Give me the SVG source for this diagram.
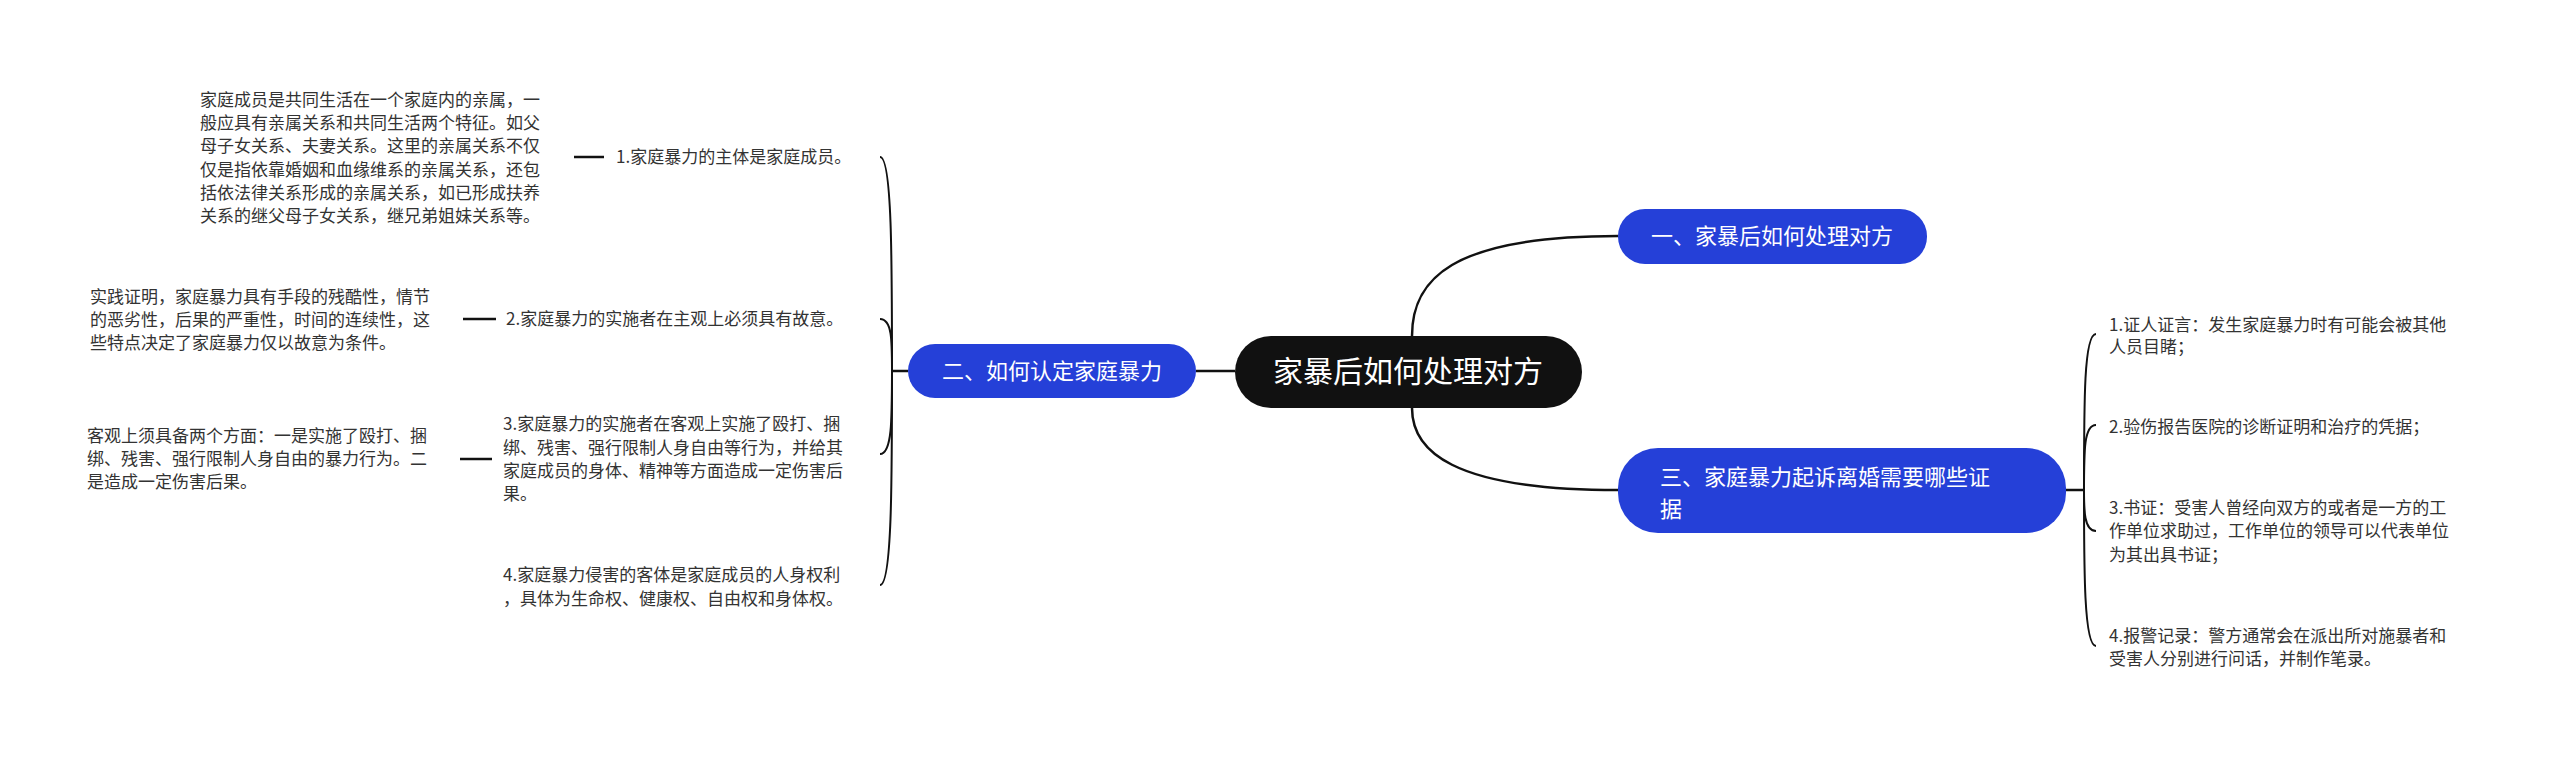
<svg xmlns="http://www.w3.org/2000/svg" width="2560" height="757" viewBox="0 0 2560 757">
<style>
.t{font-family:"Noto Sans CJK SC","Noto Sans",sans-serif;font-size:17px;fill:#333}
.b{font-family:"Noto Sans CJK SC","Noto Sans",sans-serif;font-size:22px;fill:#fff}
.c{fill:none;stroke:#111;stroke-width:2.5}
.s{fill:none;stroke:#111;stroke-width:2}
.blue{fill:#2540d8}
</style>
<rect width="2560" height="757" fill="#fff"/>
<g id="connectors">
<path class="c" d="M1412,336 C1412,280 1450,236 1618,236"/>
<path class="c" d="M1412,408 C1412,450 1450,490 1618,490"/>
<path class="c" d="M1235,371 L1196,371"/>
<path class="c" d="M908,371 L892,371"/>
<path class="s" d="M892,371 C892,260 892,157 880,157"/>
<path class="s" d="M892,371 C892,340 892,319 880,319"/>
<path class="s" d="M892,371 C892,420 892,454 880,454"/>
<path class="s" d="M892,371 C892,480 892,585 880,585"/>
<path class="c" d="M574,157 L604,157"/>
<path class="c" d="M463,319 L496,319"/>
<path class="c" d="M460,459 L492,459"/>
<path class="c" d="M2066,490 L2084,490"/>
<path class="s" d="M2084,490 C2084,400 2084,334 2096,334"/>
<path class="s" d="M2084,490 C2084,450 2084,425 2096,425"/>
<path class="s" d="M2084,490 C2084,510 2084,531 2096,531"/>
<path class="s" d="M2084,490 C2084,570 2084,646 2096,646"/>
</g>
<g id="root"><rect x="1235" y="336" width="347" height="72" rx="36" fill="#111"/><text x="1408" y="382" text-anchor="middle" class="b" style="font-size:30px">家暴后如何处理对方</text></g>
<g id="b1"><rect class="blue" x="1618" y="209" width="309" height="55" rx="27"/><text x="1772" y="244" text-anchor="middle" class="b">一、家暴后如何处理对方</text></g>
<g id="b3"><rect class="blue" x="1618" y="448" width="448" height="85" rx="40"/><text x="1660" y="485" class="b">三、家庭暴力起诉离婚需要哪些证</text><text x="1660" y="517" class="b">据</text></g>
<g id="b2"><rect class="blue" x="908" y="344" width="288" height="54" rx="27"/><text x="1052" y="379" text-anchor="middle" class="b">二、如何认定家庭暴力</text></g>
<g id="l1"><text x="616" y="163" class="t">1.家庭暴力的主体是家庭成员。</text></g>
<g id="l1d"><text class="t"><tspan x="200" y="106">家庭成员是共同生活在一个家庭内的亲属，一</tspan><tspan x="200" y="129">般应具有亲属关系和共同生活两个特征。如父</tspan><tspan x="200" y="152">母子女关系、夫妻关系。这里的亲属关系不仅</tspan><tspan x="200" y="176">仅是指依靠婚姻和血缘维系的亲属关系，还包</tspan><tspan x="200" y="199">括依法律关系形成的亲属关系，如已形成扶养</tspan><tspan x="200" y="222">关系的继父母子女关系，继兄弟姐妹关系等。</tspan></text></g>
<g id="l2"><text x="506" y="325" class="t">2.家庭暴力的实施者在主观上必须具有故意。</text></g>
<g id="l2d"><text class="t"><tspan x="90" y="303">实践证明，家庭暴力具有手段的残酷性，情节</tspan><tspan x="90" y="326">的恶劣性，后果的严重性，时间的连续性，这</tspan><tspan x="90" y="349">些特点决定了家庭暴力仅以故意为条件。</tspan></text></g>
<g id="l3"><text class="t"><tspan x="503" y="430">3.家庭暴力的实施者在客观上实施了殴打、捆</tspan><tspan x="503" y="454">绑、残害、强行限制人身自由等行为，并给其</tspan><tspan x="503" y="477">家庭成员的身体、精神等方面造成一定伤害后</tspan><tspan x="503" y="500">果。</tspan></text></g>
<g id="l3d"><text class="t"><tspan x="87" y="442">客观上须具备两个方面：一是实施了殴打、捆</tspan><tspan x="87" y="465">绑、残害、强行限制人身自由的暴力行为。二</tspan><tspan x="87" y="488">是造成一定伤害后果。</tspan></text></g>
<g id="l4"><text class="t"><tspan x="503" y="581">4.家庭暴力侵害的客体是家庭成员的人身权利</tspan><tspan x="503" y="605">，具体为生命权、健康权、自由权和身体权。</tspan></text></g>
<g id="r1"><text class="t"><tspan x="2109" y="331">1.证人证言：发生家庭暴力时有可能会被其他</tspan><tspan x="2109" y="353">人员目睹；</tspan></text></g>
<g id="r2"><text x="2109" y="433" class="t">2.验伤报告医院的诊断证明和治疗的凭据；</text></g>
<g id="r3"><text class="t"><tspan x="2109" y="514">3.书证：受害人曾经向双方的或者是一方的工</tspan><tspan x="2109" y="537">作单位求助过，工作单位的领导可以代表单位</tspan><tspan x="2109" y="561">为其出具书证；</tspan></text></g>
<g id="r4"><text class="t"><tspan x="2109" y="642">4.报警记录：警方通常会在派出所对施暴者和</tspan><tspan x="2109" y="665">受害人分别进行问话，并制作笔录。</tspan></text></g>
</svg>
